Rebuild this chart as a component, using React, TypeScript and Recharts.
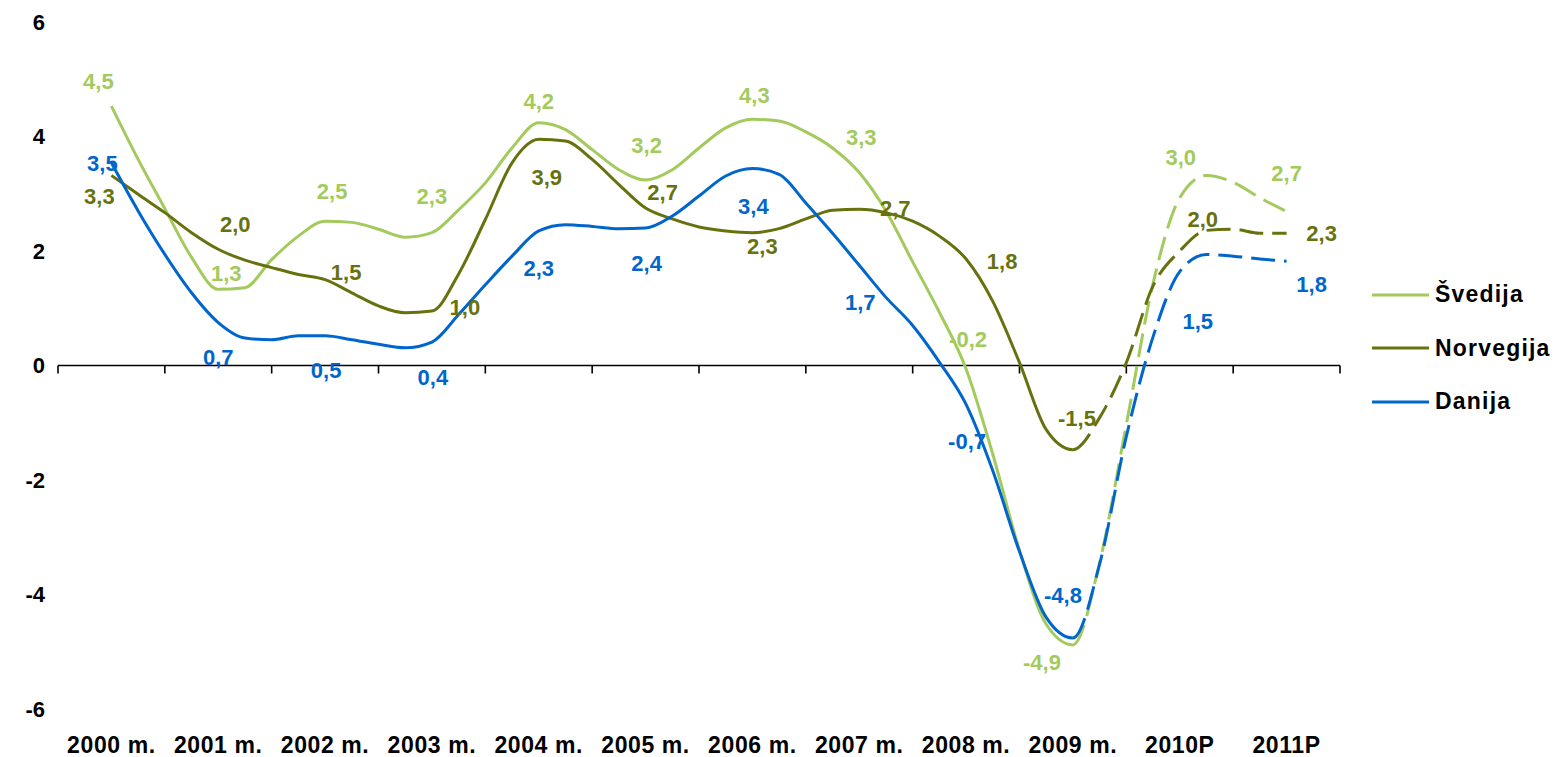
import React from "react";
import { LineChart, Line, XAxis, YAxis, ReferenceLine, LabelList, Legend } from "recharts";

// ---------- data ----------
const categories = ["2000 m.", "2001 m.", "2002 m.", "2003 m.", "2004 m.", "2005 m.", "2006 m.", "2007 m.", "2008 m.", "2009 m.", "2010P", "2011P"];
const yTicks = [-6, -4, -2, 0, 2, 4, 6];

// annual values shown as data labels
const svedijaAnnual = [4.5, 1.3, 2.5, 2.3, 4.2, 3.2, 4.3, 3.3, -0.2, -4.9, 3.0, 2.7];
const norvegijaAnnual = [3.3, 2.0, 1.5, 1.0, 3.9, 2.7, 2.3, 2.7, 1.8, -1.5, 2.0, 2.3];
const danijaAnnual = [3.5, 0.7, 0.5, 0.4, 2.3, 2.4, 3.4, 1.7, -0.7, -4.8, 1.5, 1.8];

// curve values, four per year
const svedijaCurve = [
  4.53, 3.6, 2.74, 1.89, 1.33, 1.36, 1.85, 2.26, 2.52, 2.5, 2.38, 2.24, 2.32, 2.72, 3.19, 3.8,
  4.24, 4.12, 3.77, 3.42, 3.24, 3.42, 3.8, 4.15, 4.3, 4.27, 4.08, 3.8, 3.37, 2.7, 1.81, 0.93,
  -0.06, -1.55, -3.23, -4.52, -4.88, -3.44, -1.03, 1.43, 2.93, 3.32, 3.2, 2.93, 2.69,
];
const norvegijaCurve = [
  3.32, 2.99, 2.67, 2.32, 2.03, 1.84, 1.71, 1.59, 1.5, 1.27, 1.04, 0.92, 0.95, 1.6, 2.55, 3.54,
  3.95, 3.92, 3.6, 3.16, 2.75, 2.56, 2.42, 2.35, 2.32, 2.39, 2.56, 2.71, 2.73, 2.67, 2.52, 2.26,
  1.86, 1.12, 0.05, -1.12, -1.47, -0.91, 0.05, 1.39, 2.0, 2.36, 2.38, 2.31, 2.31,
];
const danijaCurve = [
  3.54, 2.7, 1.94, 1.27, 0.75, 0.48, 0.45, 0.52, 0.52, 0.45, 0.37, 0.31, 0.41, 0.89, 1.41, 1.91,
  2.35, 2.46, 2.43, 2.39, 2.4, 2.61, 2.96, 3.31, 3.44, 3.34, 2.84, 2.31, 1.75, 1.19, 0.7, 0.06,
  -0.68, -1.84, -3.25, -4.4, -4.76, -3.47, -1.24, 0.5, 1.64, 1.94, 1.91, 1.86, 1.82,
];

const pointsPerYear = 4;
const lastActualYear = 9; // 2009 m.; dashed (forecast) from there on

// ---------- styling ----------
const FONT = "'Liberation Sans', Arial, sans-serif";
const FS = 22;
const SV_COLOR = "#A3CA5C";
const NO_COLOR = "#67720F";
const DA_COLOR = "#0066CC";

// label offsets (dx, dy) from the annual point, per year
const svLabelOffsets = [[-13, -27], [8, -18], [7, -31], [0, -38], [0, -24], [1, -37], [2, -24], [2, -39], [2, -38], [-31, 16], [1, -37], [0, -38]];
const noLabelOffsets = [[-12, 20], [17, -27], [21, -8], [33, -1], [8, 35], [17, -19], [10, 12], [36, -3], [36, -1], [4, -33], [23, -32], [35, -1]];
const daLabelOffsets = [[-9, -2], [0, 32], [1, 33], [1, 34], [0, 34], [1, 35], [1, 35], [1, 34], [1, 36], [-10, -45], [18, 41], [25, 22]];

const forecastIndex = lastActualYear * pointsPerYear;
// each part carries one neighbouring point, used only for the tangent at the join
const rows = svedijaCurve.map((_, k) => {
  const annual = k % pointsPerYear === 0;
  const yr = k / pointsPerYear;
  const inSolid = k <= forecastIndex + 1;
  const inDash = k >= forecastIndex - 1;
  return {
    x: yr,
    svS: inSolid ? svedijaCurve[k] : null,
    svF: inDash ? svedijaCurve[k] : null,
    svA: annual ? svedijaAnnual[yr] : null,
    noS: inSolid ? norvegijaCurve[k] : null,
    noF: inDash ? norvegijaCurve[k] : null,
    noA: annual ? norvegijaAnnual[yr] : null,
    daS: inSolid ? danijaCurve[k] : null,
    daF: inDash ? danijaCurve[k] : null,
    daA: annual ? danijaAnnual[yr] : null,
  };
});

// monotone-x curve that can leave out the first / last segment (kept only for tangents)
function smoothCurve(trimStart: boolean, trimEnd: boolean) {
  return (context: any) => {
    let pts: number[][] = [];
    const flush = () => {
      const n = pts.length;
      if (n < 2) return;
      const xs = pts.map((p) => p[0]);
      const ys = pts.map((p) => p[1]);
      const t = new Array(n).fill(0);
      const sl = (i: number) => (ys[i + 1] - ys[i]) / (xs[i + 1] - xs[i] || 1);
      for (let i = 1; i < n - 1; i++) {
        const h0 = xs[i] - xs[i - 1];
        const h1 = xs[i + 1] - xs[i];
        const s0 = sl(i - 1);
        const s1 = sl(i);
        const p = (s0 * h1 + s1 * h0) / (h0 + h1);
        t[i] = (Math.sign(s0) + Math.sign(s1)) * Math.min(Math.abs(s0), Math.abs(s1), 0.5 * Math.abs(p)) || 0;
      }
      if (n > 2) {
        t[0] = (3 * sl(0) - t[1]) / 2;
        t[n - 1] = (3 * sl(n - 2) - t[n - 2]) / 2;
      } else {
        t[0] = t[1] = sl(0);
      }
      const s = trimStart && n > 2 ? 1 : 0;
      const e = trimEnd && n > 2 ? n - 2 : n - 1;
      context.moveTo(xs[s], ys[s]);
      for (let i = s; i < e; i++) {
        const h = (xs[i + 1] - xs[i]) / 3;
        context.bezierCurveTo(xs[i] + h, ys[i] + h * t[i], xs[i + 1] - h, ys[i + 1] - h * t[i + 1], xs[i + 1], ys[i + 1]);
      }
    };
    return {
      areaStart() {},
      areaEnd() {},
      lineStart() {
        pts = [];
      },
      lineEnd() {
        flush();
      },
      point(x: number, y: number) {
        pts.push([+x, +y]);
      },
    };
  };
}

const solidCurve = smoothCurve(false, true);
const dashCurve = smoothCurve(true, false);

const categoryCenters = categories.map((_, i) => i);
const categoryEdges = [...categories.map((_, i) => i - 0.5), categories.length - 0.5];

const fmt = (v: number) => v.toFixed(1).replace(".", ",");

function makeLabel(color: string, offsets: number[][]) {
  return (props: any) => {
    const { x, y, value, index } = props;
    if (value === null || value === undefined || x == null || y == null || isNaN(y)) return null;
    const yr = Math.round(index / pointsPerYear);
    const [dx, dy] = offsets[yr] || [0, -20];
    return (
      <text
        x={x + dx}
        y={y + dy}
        dy="0.36em"
        textAnchor="middle"
        fill={color}
        fontSize={FS}
        fontWeight="bold"
        fontFamily={FONT}
      >
        {fmt(value)}
      </text>
    );
  };
}

const seriesList = [
  { name: "Švedija", color: SV_COLOR },
  { name: "Norvegija", color: NO_COLOR },
  { name: "Danija", color: DA_COLOR },
];

const renderLegend = () => (
  <div style={{ fontFamily: FONT, fontWeight: "bold", fontSize: 23, color: "#000" }}>
    {seriesList.map((s) => (
      <div key={s.name} style={{ display: "flex", alignItems: "center", height: 53.5 }}>
        <svg width={57} height={6} style={{ display: "block" }}>
          <line x1={0} y1={3} x2={57} y2={3} stroke={s.color} strokeWidth={3} />
        </svg>
        <span style={{ marginLeft: 6, letterSpacing: 1.2 }}>{s.name}</span>
      </div>
    ))}
  </div>
);

export default function App() {
  const dash = "24 9";
  const common = { strokeWidth: 3, dot: false, activeDot: false, isAnimationActive: false } as const;
  return (
    <div style={{ position: "absolute", left: 0, top: 0, background: "#fff" }}>
      <LineChart width={1561} height={757} data={rows} margin={{ top: 22, right: 221, bottom: 0, left: 0 }}>
        <XAxis
          dataKey="x"
          type="number"
          domain={[-0.5, categories.length - 0.5]}
          ticks={categoryCenters}
          tickFormatter={(v: number) => categories[v] ?? ""}
          axisLine={false}
          tickLine={false}
          height={48}
          tickMargin={22}
          interval={0}
          tick={{ fontFamily: FONT, fontSize: 23, fontWeight: "bold", fill: "#000", letterSpacing: 0.6 }}
        />
        <YAxis
          type="number"
          domain={[-6, 6]}
          ticks={yTicks}
          axisLine={false}
          tickLine={false}
          width={58}
          tickMargin={7}
          tick={{ fontFamily: FONT, fontSize: FS, fontWeight: "bold", fill: "#000" }}
        />
        <ReferenceLine y={0} stroke="#000" strokeWidth={1.6} />
        {categoryEdges.map((e) => (
          <ReferenceLine
            key={e}
            segment={[{ x: e, y: 0 }, { x: e, y: -0.14 }]}
            stroke="#000"
            strokeWidth={1.6}
            ifOverflow="visible"
          />
        ))}
        <Legend
          layout="vertical"
          align="center"
          verticalAlign="middle"
          content={renderLegend}
          wrapperStyle={{ position: "absolute", left: 1372, top: 268, width: 189 }}
        />
        <Line type={solidCurve as any} dataKey="svS" stroke={SV_COLOR} {...common} />
        <Line type={dashCurve as any} dataKey="svF" stroke={SV_COLOR} strokeDasharray={dash} {...common} />
        <Line type={solidCurve as any} dataKey="noS" stroke={NO_COLOR} {...common} />
        <Line type={dashCurve as any} dataKey="noF" stroke={NO_COLOR} strokeDasharray={dash} {...common} />
        <Line type={solidCurve as any} dataKey="daS" stroke={DA_COLOR} {...common} />
        <Line type={dashCurve as any} dataKey="daF" stroke={DA_COLOR} strokeDasharray={dash} {...common} />
        <Line dataKey="svA" stroke="none" dot={false} activeDot={false} isAnimationActive={false} legendType="none">
          <LabelList dataKey="svA" content={makeLabel(SV_COLOR, svLabelOffsets)} />
        </Line>
        <Line dataKey="noA" stroke="none" dot={false} activeDot={false} isAnimationActive={false} legendType="none">
          <LabelList dataKey="noA" content={makeLabel(NO_COLOR, noLabelOffsets)} />
        </Line>
        <Line dataKey="daA" stroke="none" dot={false} activeDot={false} isAnimationActive={false} legendType="none">
          <LabelList dataKey="daA" content={makeLabel(DA_COLOR, daLabelOffsets)} />
        </Line>
      </LineChart>
    </div>
  );
}
